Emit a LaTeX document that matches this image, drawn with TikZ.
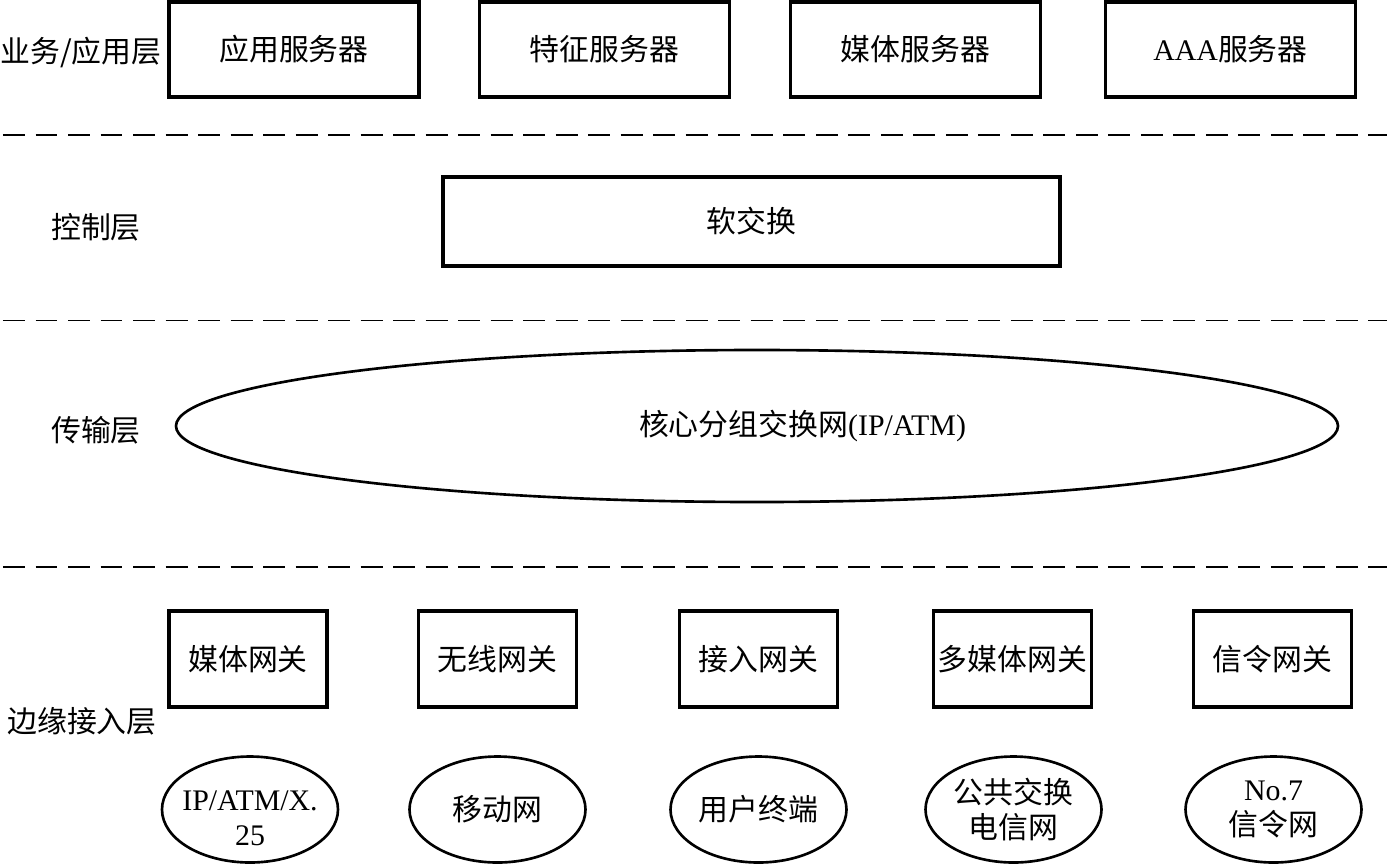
\documentclass[tikz,border=0pt]{standalone}
\usepackage{fontspec}
\setmainfont{Liberation Serif}
\newfontfamily\cjkfont{Noto Sans CJK SC}
\newcommand{\zh}[1]{{\cjkfont #1}}
\usetikzlibrary{shapes.geometric}
\tikzset{
  srvbox/.style={draw, line width=1.8pt, minimum width=5cm, minimum height=1.9cm, inner sep=0pt},
  gwbox/.style={draw, line width=1.8pt, minimum width=3.16cm, minimum height=1.92cm, inner sep=0pt},
  netell/.style={draw, ellipse, line width=1.5pt, minimum width=3.52cm, minimum height=2.12cm,
    inner sep=0pt, align=center},
  layerlab/.style={inner sep=0pt},
  sepline/.style={line width=1.1pt, dash pattern=on 12.5pt off 6pt}
}
\begin{document}
\begin{tikzpicture}[font=\fontsize{17}{20}\selectfont]
  \useasboundingbox (0,0) rectangle (27.74,-17.28);
  % layer separators
  \foreach \y in {-2.7,-6.41,-11.34}
    \draw[sepline] (0.06,\y) -- (27.74,\y);

  % service / application layer
  \node[layerlab] (lapp) at (1.62,-1.05) {\zh{业务/应用层}};
  \node[srvbox] (appsrv) at (5.88,-0.99) {\zh{应用服务器}};
  \node[srvbox] (featsrv) at (12.09,-0.99) {\zh{特征服务器}};
  \node[srvbox] (mediasrv) at (18.31,-0.99) {\zh{媒体服务器}};
  \node[srvbox] (aaasrv) at (24.61,-0.99) {AAA\zh{服务器}};

  % control layer
  \node[layerlab] (lctrl) at (1.92,-4.54) {\zh{控制层}};
  \node[draw, line width=1.8pt, minimum width=12.34cm, minimum height=1.78cm]
    (softsw) at (15.03,-4.43) {\zh{软交换}};

  % transport layer
  \node[layerlab] (ltrans) at (1.92,-8.6) {\zh{传输层}};
  \node[draw, ellipse, line width=1.5pt, minimum width=23.24cm, minimum height=3.04cm]
    (core) at (15.14,-8.52) {};
  \node (coretxt) at (16.05,-8.52) {\zh{核心分组交换网}(IP/ATM)};

  % edge access layer
  \node[layerlab] (ledge) at (1.64,-14.42) {\zh{边缘接入层}};
  \node[gwbox] (mgw) at (4.96,-13.18) {\zh{媒体网关}};
  \node[gwbox] (wgw) at (9.95,-13.18) {\zh{无线网关}};
  \node[gwbox] (agw) at (15.17,-13.18) {\zh{接入网关}};
  \node[gwbox] (mmgw) at (20.25,-13.18) {\zh{多媒体网关}};
  \node[gwbox] (sgw) at (25.45,-13.18) {\zh{信令网关}};

  \node[netell] (ipnet) at (5.0,-16.19) {};
  \node[align=center] (ipnettxt) at ([yshift=-0.18cm]ipnet.center) {IP/ATM/X.\\25};
  \node[netell] (mobnet) at (9.95,-16.19) {\zh{移动网}};
  \node[netell] (userterm) at (15.17,-16.19) {\zh{用户终端}};
  \node[netell] (pstn) at (20.27,-16.19) {\zh{公共交换}\\\zh{电信网}};
  \node[netell] (ss7net) at (25.47,-16.19) {No.7\\\zh{信令网}};
\end{tikzpicture}
\end{document}
